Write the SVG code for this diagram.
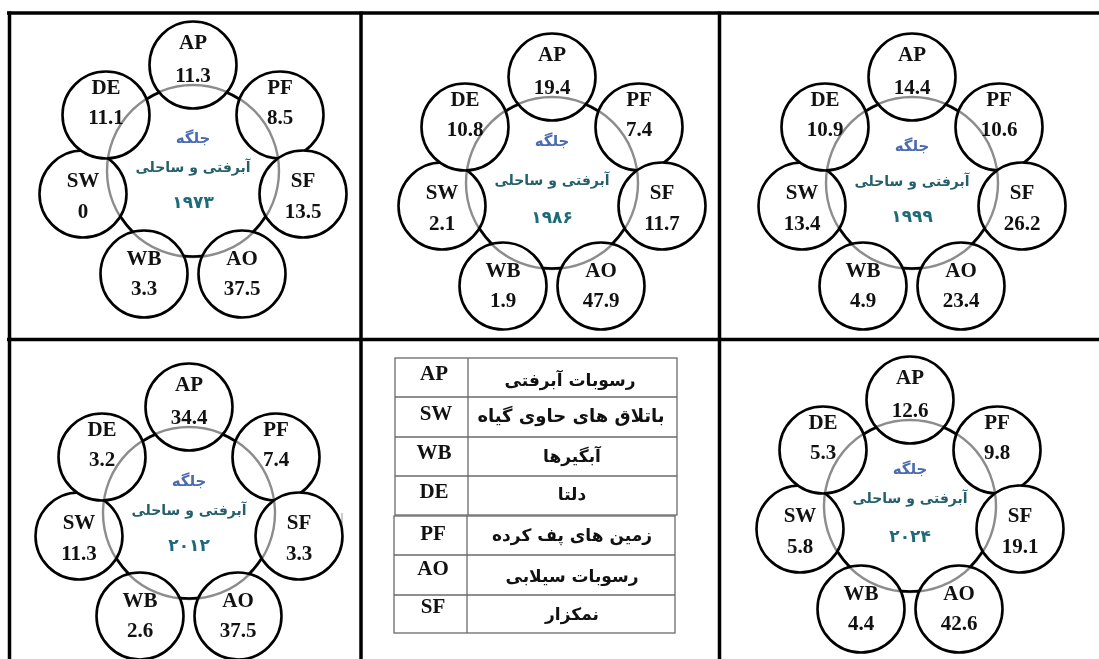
<svg xmlns="http://www.w3.org/2000/svg" width="1099" height="659" viewBox="0 0 1099 659">
<style>
.frame{stroke:#000;stroke-width:3.5;fill:none}
.ring{fill:none;stroke:#000;stroke-width:2.6}
.halo{fill:none;stroke:#8c8c8c;stroke-width:2.4;mix-blend-mode:multiply}
.node circle{fill:#fff;stroke:#000;stroke-width:2.6}
.t{font-family:"Liberation Serif","Times New Roman",serif;font-weight:bold;font-size:21px;fill:#111;text-anchor:middle}
.fa{font-family:"DejaVu Sans",sans-serif;font-weight:bold;text-anchor:middle}
.c1{font-size:15px;fill:#4a6bb0}
.c2{font-size:14px;fill:#245f6b}
.c3{font-size:17px;fill:#1d6a78}
.tbl{fill:none;stroke:#6a6a6a;stroke-width:1.3}
.lg{font-family:"DejaVu Sans",sans-serif;font-weight:bold;font-size:17px;fill:#111;text-anchor:middle}
</style>
<rect width="1099" height="659" fill="#fff"/>

<g id="frame">
<line class="frame" x1="7" y1="13" x2="1099" y2="13"/>
<line class="frame" x1="7" y1="339.5" x2="1099" y2="339.5"/>
<line class="frame" x1="9.5" y1="11.5" x2="9.5" y2="659"/>
<line class="frame" x1="361" y1="11.5" x2="361" y2="659"/>
<line class="frame" x1="719.5" y1="11.5" x2="719.5" y2="659"/>
<line x1="342" y1="513" x2="342" y2="527" stroke="#999" stroke-width="1"/>
</g>

<g id="connectors">
<circle class="ring" cx="193" cy="171" r="85.5"/>
<circle class="ring" cx="552" cy="183" r="85.5"/>
<circle class="ring" cx="912" cy="183" r="85.5"/>
<circle class="ring" cx="189" cy="513" r="85.5"/>
<circle class="ring" cx="910" cy="506" r="85.5"/>
</g>

<g id="panel-1973" transform="translate(193,171)">
<g id="p1-AP" class="node" transform="translate(0,-106)"><circle r="43.5"/><text class="t" y="-16">AP</text><text class="t" y="17">11.3</text></g>
<g id="p1-PF" class="node" transform="translate(87,-56)"><circle r="43.5"/><text class="t" y="-21">PF</text><text class="t" y="9">8.5</text></g>
<g id="p1-SF" class="node" transform="translate(110,23)"><circle r="43.5"/><text class="t" y="-7">SF</text><text class="t" y="24">13.5</text></g>
<g id="p1-AO" class="node" transform="translate(49,103)"><circle r="43.5"/><text class="t" y="-9">AO</text><text class="t" y="21">37.5</text></g>
<g id="p1-WB" class="node" transform="translate(-49,103)"><circle r="43.5"/><text class="t" y="-9">WB</text><text class="t" y="21">3.3</text></g>
<g id="p1-SW" class="node" transform="translate(-110,23)"><circle r="43.5"/><text class="t" y="-7">SW</text><text class="t" y="24">0</text></g>
<g id="p1-DE" class="node" transform="translate(-87,-56)"><circle r="43.5"/><text class="t" y="-21">DE</text><text class="t" y="9">11.1</text></g>
<circle class="halo" r="86"/>
<g id="p1-center"><text class="fa c1" y="-28">جلگه</text><text class="fa c2" y="1">آبرفتی و ساحلی</text><text class="fa c3" y="37">۱۹۷۳</text></g>
</g>

<g id="panel-1986" transform="translate(552,183)">
<g id="p2-AP" class="node" transform="translate(0,-106)"><circle r="43.5"/><text class="t" y="-16">AP</text><text class="t" y="17">19.4</text></g>
<g id="p2-PF" class="node" transform="translate(87,-56)"><circle r="43.5"/><text class="t" y="-21">PF</text><text class="t" y="9">7.4</text></g>
<g id="p2-SF" class="node" transform="translate(110,23)"><circle r="43.5"/><text class="t" y="-7">SF</text><text class="t" y="24">11.7</text></g>
<g id="p2-AO" class="node" transform="translate(49,103)"><circle r="43.5"/><text class="t" y="-9">AO</text><text class="t" y="21">47.9</text></g>
<g id="p2-WB" class="node" transform="translate(-49,103)"><circle r="43.5"/><text class="t" y="-9">WB</text><text class="t" y="21">1.9</text></g>
<g id="p2-SW" class="node" transform="translate(-110,23)"><circle r="43.5"/><text class="t" y="-7">SW</text><text class="t" y="24">2.1</text></g>
<g id="p2-DE" class="node" transform="translate(-87,-56)"><circle r="43.5"/><text class="t" y="-21">DE</text><text class="t" y="9">10.8</text></g>
<circle class="halo" r="86"/>
<g id="p2-center"><text class="fa c1" y="-37">جلگه</text><text class="fa c2" y="2">آبرفتی و ساحلی</text><text class="fa c3" y="40">۱۹۸۶</text></g>
</g>

<g id="panel-1999" transform="translate(912,183)">
<g id="p3-AP" class="node" transform="translate(0,-106)"><circle r="43.5"/><text class="t" y="-16">AP</text><text class="t" y="17">14.4</text></g>
<g id="p3-PF" class="node" transform="translate(87,-56)"><circle r="43.5"/><text class="t" y="-21">PF</text><text class="t" y="9">10.6</text></g>
<g id="p3-SF" class="node" transform="translate(110,23)"><circle r="43.5"/><text class="t" y="-7">SF</text><text class="t" y="24">26.2</text></g>
<g id="p3-AO" class="node" transform="translate(49,103)"><circle r="43.5"/><text class="t" y="-9">AO</text><text class="t" y="21">23.4</text></g>
<g id="p3-WB" class="node" transform="translate(-49,103)"><circle r="43.5"/><text class="t" y="-9">WB</text><text class="t" y="21">4.9</text></g>
<g id="p3-SW" class="node" transform="translate(-110,23)"><circle r="43.5"/><text class="t" y="-7">SW</text><text class="t" y="24">13.4</text></g>
<g id="p3-DE" class="node" transform="translate(-87,-56)"><circle r="43.5"/><text class="t" y="-21">DE</text><text class="t" y="9">10.9</text></g>
<circle class="halo" r="86"/>
<g id="p3-center"><text class="fa c1" y="-32">جلگه</text><text class="fa c2" y="3">آبرفتی و ساحلی</text><text class="fa c3" y="39">۱۹۹۹</text></g>
</g>

<g id="panel-2012" transform="translate(189,513)">
<g id="p4-AP" class="node" transform="translate(0,-106)"><circle r="43.5"/><text class="t" y="-16">AP</text><text class="t" y="17">34.4</text></g>
<g id="p4-PF" class="node" transform="translate(87,-56)"><circle r="43.5"/><text class="t" y="-21">PF</text><text class="t" y="9">7.4</text></g>
<g id="p4-SF" class="node" transform="translate(110,23)"><circle r="43.5"/><text class="t" y="-7">SF</text><text class="t" y="24">3.3</text></g>
<g id="p4-AO" class="node" transform="translate(49,103)"><circle r="43.5"/><text class="t" y="-9">AO</text><text class="t" y="21">37.5</text></g>
<g id="p4-WB" class="node" transform="translate(-49,103)"><circle r="43.5"/><text class="t" y="-9">WB</text><text class="t" y="21">2.6</text></g>
<g id="p4-SW" class="node" transform="translate(-110,23)"><circle r="43.5"/><text class="t" y="-7">SW</text><text class="t" y="24">11.3</text></g>
<g id="p4-DE" class="node" transform="translate(-87,-56)"><circle r="43.5"/><text class="t" y="-21">DE</text><text class="t" y="9">3.2</text></g>
<circle class="halo" r="86"/>
<g id="p4-center"><text class="fa c1" y="-27">جلگه</text><text class="fa c2" y="2">آبرفتی و ساحلی</text><text class="fa c3" y="38">۲۰۱۲</text></g>
</g>

<g id="panel-2024" transform="translate(910,506)">
<g id="p6-AP" class="node" transform="translate(0,-106)"><circle r="43.5"/><text class="t" y="-16">AP</text><text class="t" y="17">12.6</text></g>
<g id="p6-PF" class="node" transform="translate(87,-56)"><circle r="43.5"/><text class="t" y="-21">PF</text><text class="t" y="9">9.8</text></g>
<g id="p6-SF" class="node" transform="translate(110,23)"><circle r="43.5"/><text class="t" y="-7">SF</text><text class="t" y="24">19.1</text></g>
<g id="p6-AO" class="node" transform="translate(49,103)"><circle r="43.5"/><text class="t" y="-9">AO</text><text class="t" y="21">42.6</text></g>
<g id="p6-WB" class="node" transform="translate(-49,103)"><circle r="43.5"/><text class="t" y="-9">WB</text><text class="t" y="21">4.4</text></g>
<g id="p6-SW" class="node" transform="translate(-110,23)"><circle r="43.5"/><text class="t" y="-7">SW</text><text class="t" y="24">5.8</text></g>
<g id="p6-DE" class="node" transform="translate(-87,-56)"><circle r="43.5"/><text class="t" y="-21">DE</text><text class="t" y="9">5.3</text></g>
<circle class="halo" r="86"/>
<g id="p6-center"><text class="fa c1" y="-32">جلگه</text><text class="fa c2" y="-3">آبرفتی و ساحلی</text><text class="fa c3" y="36">۲۰۲۴</text></g>
</g>

<g id="legend">
<rect class="tbl" x="395" y="358" width="282" height="157"/>
<line class="tbl" x1="468" y1="358" x2="468" y2="515"/>
<line class="tbl" x1="395" y1="397" x2="677" y2="397"/>
<line class="tbl" x1="395" y1="437" x2="677" y2="437"/>
<line class="tbl" x1="395" y1="476" x2="677" y2="476"/>
<rect class="tbl" x="394" y="516" width="281" height="117"/>
<line class="tbl" x1="467" y1="516" x2="467" y2="633"/>
<line class="tbl" x1="394" y1="555" x2="675" y2="555"/>
<line class="tbl" x1="394" y1="595" x2="675" y2="595"/>
<text class="t" x="434" y="380">AP</text>
<text class="t" x="436" y="420">SW</text>
<text class="t" x="434" y="459">WB</text>
<text class="t" x="434" y="498">DE</text>
<text class="t" x="433" y="540">PF</text>
<text class="t" x="433" y="575">AO</text>
<text class="t" x="433" y="613">SF</text>
<text class="lg" x="570" y="386">رسوبات آبرفتی</text>
<text class="lg" x="571" y="422" style="font-size:18px">باتلاق های حاوی گیاه</text>
<text class="lg" x="572" y="462">آبگیرها</text>
<text class="lg" x="572" y="500">دلتا</text>
<text class="lg" x="572" y="541">زمین های پف کرده</text>
<text class="lg" x="572" y="582">رسوبات سیلابی</text>
<text class="lg" x="572" y="620">نمکزار</text>
</g>
</svg>
